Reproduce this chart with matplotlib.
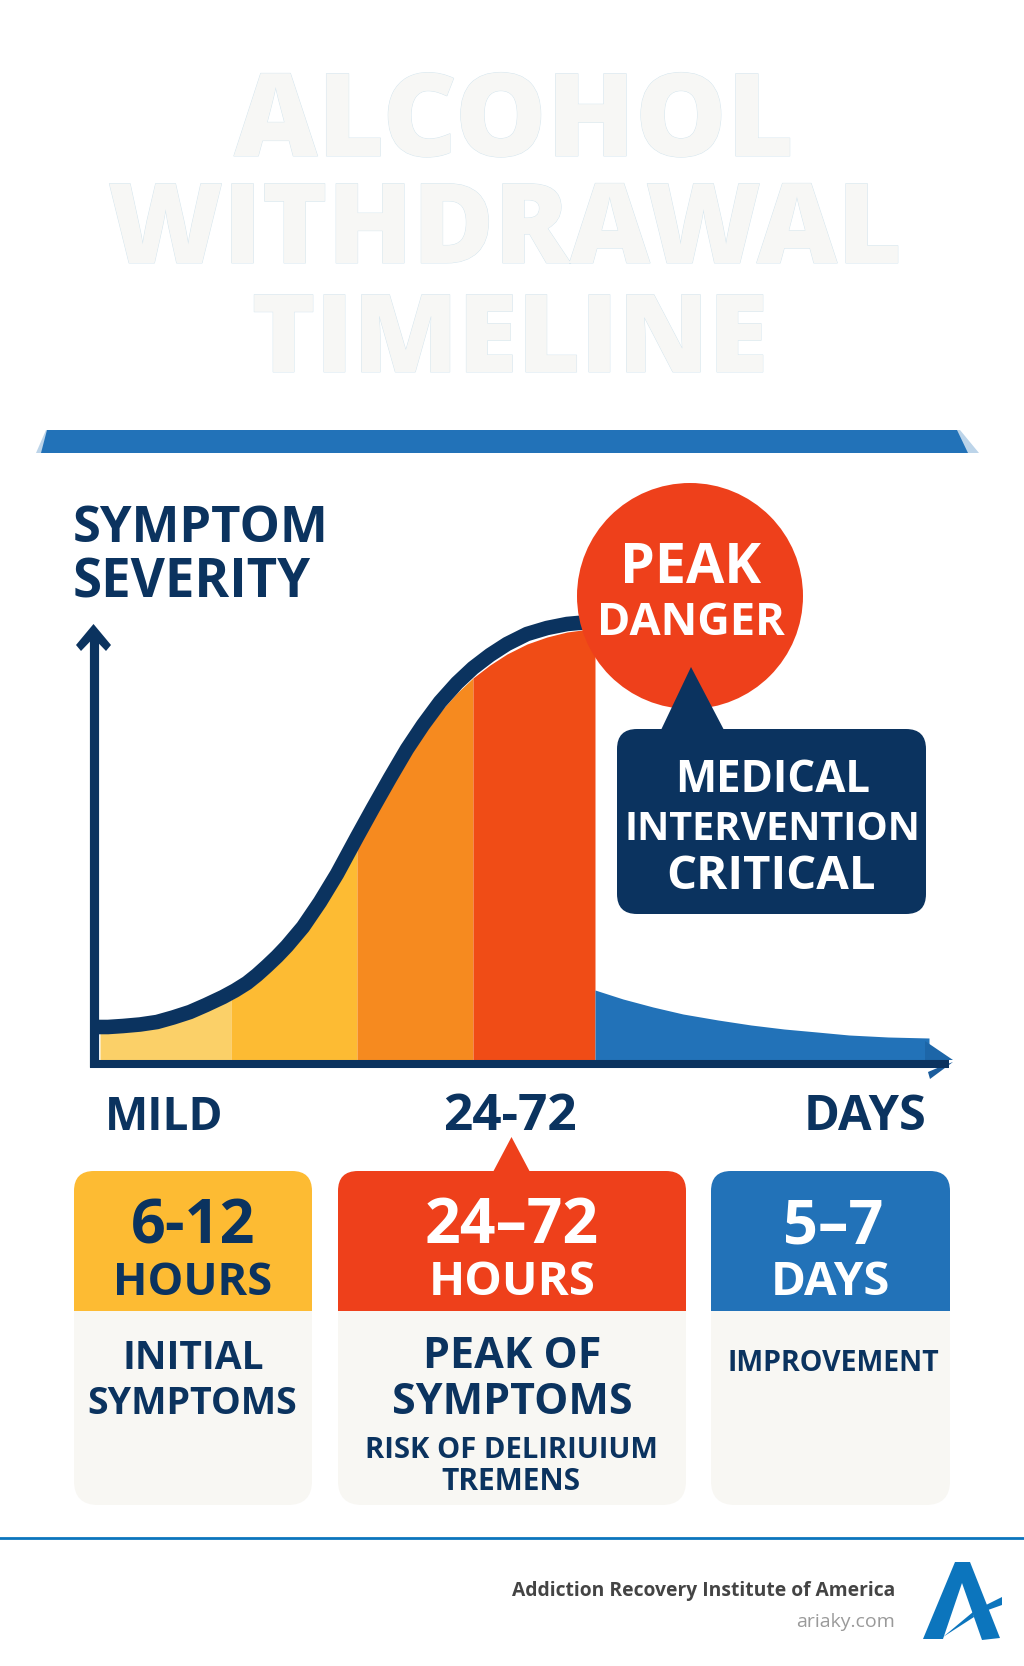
import matplotlib
matplotlib.use("Agg")
import matplotlib.pyplot as plt
import matplotlib.patheffects as pe
from matplotlib.patches import Circle, FancyBboxPatch, Polygon, Rectangle
import numpy as np

plt.rcParams["font.family"] = ["Open Sans", "DejaVu Sans"]

NAVY = "#0B335F"
BLUE = "#2272B8"
RED = "#EE401B"
YELLOW = "#FDBB33"
PAPER = "#F8F7F3"

# severity curve, line centre and top of the coloured area (timeline, severity)
line_x = [1, 15, 30, 47, 64, 80, 97, 113, 130, 142, 154, 164, 174, 184, 194, 210, 227, 244, 264, 280, 297, 314, 330, 347,
          364, 380, 397, 414, 434, 454, 474, 485, 500]
line_y = [36, 36, 37, 38.5, 41, 45.5, 51, 58, 66, 72.5, 80, 88, 97, 106.5, 117, 136, 161, 189, 226, 255, 285, 314, 338, 361,
          380, 395, 408, 419, 429, 435, 439, 440, 441]

area_x = np.array([7, 30, 47, 64, 80, 97, 118, 138, 151, 164, 184, 204, 224, 244, 264, 280, 297, 314, 330, 347,
                   364, 380, 397, 414, 434, 454, 474, 489, 502])
area_y = np.array([31, 32, 34, 37, 41.5, 47, 55, 63, 71, 80, 98, 120, 147, 180, 215, 244, 274, 303, 328, 351,
                   370, 385, 398, 409, 419, 426, 431, 433, 434])

# recovery tail
tail_x = [502, 530, 560, 590, 625, 658, 691, 724, 756, 795, 836]
tail_y = [73, 64, 56, 49, 43, 38, 34, 31, 28, 26, 25]

stage_edges = [7, 138, 264, 380, 502]
stage_colors = ["#FBD068", "#FDBB33", "#F68A1F", "#F04C16"]

cards = ["6-12", "24–72", "5–7"]
card_units = ["HOURS", "HOURS", "DAYS"]
num_sizes = [44, 45, 44]
unit_sizes = [32.5, 34, 34]

title_lines = ["ALCOHOL", "WITHDRAWAL", "TIMELINE"]
title_sizes = [83, 80, 78]

fig = plt.figure(figsize=(10.24, 16.66), dpi=100, facecolor="white")

# chart axes, one data unit is one pixel
ax = fig.add_axes([93 / 1024, (1666 - 1063) / 1666, 861 / 1024, 439 / 1666], zorder=1)
ax.set_xlim(0, 861)
ax.set_ylim(0, 439)
ax.axis("off")

for i, c in enumerate(stage_colors):
    m = (area_x >= stage_edges[i]) & (area_x <= stage_edges[i + 1])
    ax.fill_between(area_x[m], area_y[m], 3, color=c, lw=0)
ax.fill_between(tail_x, tail_y, 3, color=BLUE, lw=0)
ax.plot(line_x, line_y, color=NAVY, lw=10.5, solid_capstyle="butt", solid_joinstyle="round", clip_on=False)

# axis lines and arrow heads
ax.plot([1, 1], [-4, 428], color=NAVY, lw=6.6, solid_capstyle="butt", clip_on=False)
ax.plot([-3, 856], [-0.5, -0.5], color=NAVY, lw=5.8, solid_capstyle="butt", clip_on=False)
ax.add_patch(Polygon([(0.5, 439), (-17, 418), (-12, 412), (0.5, 425), (13, 412), (18, 418)], closed=True,
                     fc=NAVY, ec="none", clip_on=False))
ax.add_patch(Polygon([(832, 22), (860, 3), (832, 3)], closed=True, fc="#1D66A8", ec="none", clip_on=False))
ax.add_patch(Polygon([(860, 1), (837, -16), (835, -9), (849, -3)], closed=True, fc="#1B5C9C", ec="none", clip_on=False))

# overlay in pixel coordinates for the title, callouts and cards
ov = fig.add_axes([0, 0, 1, 1], zorder=2)
ov.set_xlim(0, 1024)
ov.set_ylim(1666, 0)
ov.axis("off")
ov.patch.set_alpha(0)


def label(x, y, s, size, color=NAVY, weight="bold", **kw):
    return ov.text(x, y, s, fontsize=size, color=color, fontweight=weight,
                   ha=kw.pop("ha", "center"), va="baseline", **kw)


# title
halo = [pe.withStroke(linewidth=0.7, foreground="#D5E6EF")]
for x, y, s, size in zip([514, 505, 510], [156, 263, 372], title_lines, title_sizes):
    label(x, y, s, size, color="#F7F7F5", weight="heavy", path_effects=halo)

# header band with soft ends
ov.add_patch(Polygon([(36, 453), (46, 430), (960, 430), (979, 453)], closed=True, fc=BLUE, ec="none", alpha=0.3))
ov.add_patch(Polygon([(41, 453), (47, 430), (957, 430), (968, 453)], closed=True, fc=BLUE, ec="none"))

# axis words
label(73, 542, "SYMPTOM", 36.5, ha="left")
label(73, 598, "SEVERITY", 38, ha="left")
label(164, 1130, "MILD", 33)
label(510, 1130, "24-72", 37)
label(865, 1130, "DAYS", 35)

# peak circle and callout
ov.add_patch(Circle((690, 596), 113, fc=RED, ec="none"))
label(691, 583, "PEAK", 40, color="white")
label(691, 635, "DANGER", 32.5, color="white")
ov.add_patch(FancyBboxPatch((617, 729), 309, 185, boxstyle="round,pad=0,rounding_size=20", fc=NAVY, ec="none"))
ov.add_patch(Polygon([(691, 667), (661, 730), (724, 730)], closed=True, fc=NAVY, ec="none"))
label(773, 792, "MEDICAL", 31.5, color="white")
label(772, 840, "INTERVENTION", 28.5, color="white")
label(771, 889, "CRITICAL", 34, color="white")

# timeline cards
card_x = [(74, 312), (338, 686), (711, 950)]
card_c = [YELLOW, RED, BLUE]
num_c = [NAVY, "white", "white"]
for (x0, x1), c, tc, num, unit, ns, us in zip(card_x, card_c, num_c, cards, card_units, num_sizes, unit_sizes):
    ov.add_patch(FancyBboxPatch((x0, 1171), x1 - x0, 334, boxstyle="round,pad=0,rounding_size=24", fc=PAPER, ec="none"))
    head = FancyBboxPatch((x0, 1171), x1 - x0, 200, boxstyle="round,pad=0,rounding_size=20", fc=c, ec="none")
    ov.add_patch(head)
    head.set_clip_path(Rectangle((x0, 1165), x1 - x0, 145.5, transform=ov.transData))
    xc = (x0 + x1) / 2
    label(xc + (3 if num == "5–7" else 0), 1243, num, ns, color=tc)
    label(xc, 1295, unit, us, color=tc)
ov.add_patch(Polygon([(511.5, 1137), (493, 1172), (530, 1172)], closed=True, fc=RED, ec="none"))

label(193, 1369, "INITIAL", 28)
label(192, 1414, "SYMPTOMS", 27)
label(512, 1368, "PEAK OF", 31)
label(512, 1414, "SYMPTOMS", 31)
label(511, 1458, "RISK OF DELIRIUIUM", 21)
label(511, 1490, "TREMENS", 21.5)
label(833, 1371, "IMPROVEMENT", 20.5)

# footer
ov.plot([0, 1024], [1537.5, 1537.5], color="#0C75BD", lw=2.0)
label(895, 1596, "Addiction Recovery Institute of America", 13.9, color="#444444", ha="right")
label(895, 1627, "ariaky.com", 14, color="#9A9A9A", weight="normal", ha="right")

# logo
LOGO = "#0C75BD"
ov.add_patch(Polygon([(955, 1562), (970, 1562), (1000, 1638), (982, 1640), (962, 1583), (943, 1639), (923, 1639)],
                     closed=True, fc=LOGO, ec="none"))
ov.add_patch(Polygon([(943, 1637), (973, 1612), (974, 1617)], closed=True, fc=LOGO, ec="none"))
ov.add_patch(Polygon([(986, 1605), (1002, 1597), (1002, 1605), (988, 1610)], closed=True, fc=LOGO, ec="none"))

fig.savefig("out.png", dpi=100)
